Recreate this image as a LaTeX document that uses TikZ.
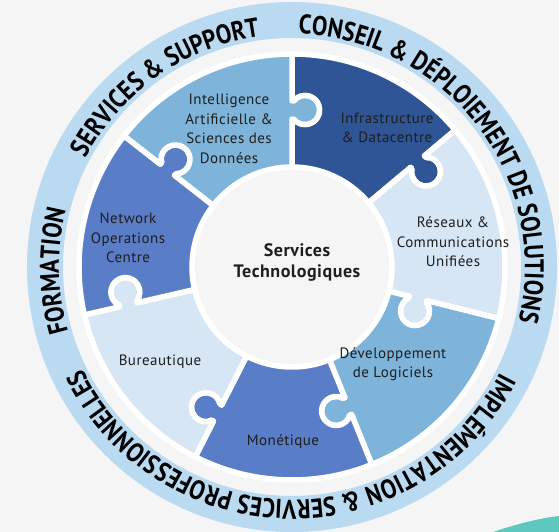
\documentclass[tikz,border=0pt]{standalone}
\usepackage{fontspec}
\setmainfont{PT Sans}[LetterSpace=3]
\newfontfamily\ringfont[FakeStretch=0.85]{PT Sans}
\usetikzlibrary{calc,decorations.text}

\definecolor{bgpaper}{HTML}{F5F5F5}
\definecolor{ringblue}{HTML}{B9DAF0}
\definecolor{navyblue}{HTML}{2F5597}
\definecolor{midblue}{HTML}{5A7DC8}
\definecolor{skyblue}{HTML}{7EB4DA}
\definecolor{paleblue}{HTML}{D6E6F4}
\definecolor{inkgray}{HTML}{1E1E1E}
\definecolor{tealish}{HTML}{5CC8BE}

\tikzset{
  piece/.style={draw=white, line width=5.5pt, line join=round},
  piecetext/.style={font=\fontsize{15}{19.5}\selectfont, align=center, text=inkgray},
  ringtext/.style={decorate, decoration={text along path, text align=center,
      text={|\ringfont\bfseries\fontsize{27}{27}\selectfont|#1}}}
}

% radial edge with the tab bulging clockwise: outwards and inwards
\newcommand\tabout[2]{-- (#1:#2-9)
  .. controls +(#1-100:4) and +(#1+55:3) .. ($(#1:#2)+(#1-90:13)+(#1+145:14.5)$)
  arc[start angle=#1+145, end angle=#1+395, radius=14.5]
  .. controls +(#1+125:3) and +(#1-90:4) .. (#1:#2+9)}
\newcommand\tabin[2]{-- (#1:#2+9)
  .. controls +(#1-90:4) and +(#1+125:3) .. ($(#1:#2)+(#1-90:13)+(#1+35:14.5)$)
  arc[start angle=#1+35, end angle=#1-215, radius=14.5]
  .. controls +(#1+55:3) and +(#1-100:4) .. (#1:#2-9)}

\begin{document}
\begin{tikzpicture}[x=1pt,y=1pt]
    \fill[bgpaper] (-292,-265) rectangle (267,267);  % paper
    \useasboundingbox (-292,-265) rectangle (267,267);
    \fill[tealish] (201,-265) .. controls (225,-257) and (248,-251) .. (267,-249) -- (267,-265) -- cycle;

    \draw[ringblue, line width=36pt] (0,0) circle[radius=247];  % outer band

    \def\rin{100}
    \def\rout{213}

    % Puzzle pieces, clockwise from the top
    \path[piece, fill=navyblue] (40:\rin) \tabout{40}{164} -- (40:\rout)
        arc[start angle=40, end angle=90, radius=\rout] \tabin{90}{157} -- (90:\rin)
        arc[start angle=90, end angle=40, radius=\rin] -- cycle;
    \path[piece, fill=paleblue] (-14:\rin) \tabout{-14}{130} -- (-14:\rout)
        arc[start angle=-14, end angle=40, radius=\rout] \tabin{40}{164} -- (40:\rin)
        arc[start angle=40, end angle=-14, radius=\rin] -- cycle;
    \path[piece, fill=skyblue] (-68:\rin) \tabout{-68}{150} -- (-68:\rout)
        arc[start angle=-68, end angle=-14, radius=\rout] \tabin{-14}{130} -- (-14:\rin)
        arc[start angle=-14, end angle=-68, radius=\rin] -- cycle;
    \path[piece, fill=midblue] (-117:\rin) \tabout{-117}{164} -- (-117:\rout)
        arc[start angle=-117, end angle=-68, radius=\rout] \tabin{-68}{150} -- (-68:\rin)
        arc[start angle=-68, end angle=-117, radius=\rin] -- cycle;
    \path[piece, fill=paleblue] (-167:\rin) \tabout{-167}{168} -- (-167:\rout)
        arc[start angle=-167, end angle=-117, radius=\rout] \tabin{-117}{164} -- (-117:\rin)
        arc[start angle=-117, end angle=-167, radius=\rin] -- cycle;
    \path[piece, fill=midblue] (-218:\rin) \tabout{-218}{158} -- (-218:\rout)
        arc[start angle=-218, end angle=-167, radius=\rout] \tabin{-167}{168} -- (-167:\rin)
        arc[start angle=-167, end angle=-218, radius=\rin] -- cycle;
    \path[piece, fill=skyblue] (90:\rin) \tabout{90}{157} -- (90:\rout)
        arc[start angle=90, end angle=142, radius=\rout] \tabin{142}{158} -- (142:\rin)
        arc[start angle=142, end angle=90, radius=\rin] -- cycle;

    % Piece labels
    \node[piecetext] (infra)   at (95,139)   {Infrastructure\\\& Datacentre};
    \node[piecetext] (reseaux) at (161,25)   {Réseaux \&\\Communications\\Unifiées};
    \node[piecetext] (devlog)  at (101,-97)  {Développement\\de Logiciels};
    \node[piecetext] (monet)   at (-9,-175)  {Monétique};
    \node[piecetext] (bureau)  at (-132,-95) {Bureautique};
    \node[piecetext] (noc)     at (-164,29)  {Network\\Operations\\Centre};
    \node[piecetext] (iasd)    at (-63,138)  {Intelligence\\Artificielle \&\\Sciences des\\Données};

    \node[font=\bfseries\fontsize{18}{21}\selectfont, align=center, text=inkgray] (core) at (5,5)
        {Services\\Technologiques};  % the hub

    % Band texts, read clockwise
    \path[ringtext={SERVICES {\&} SUPPORT}] (175:233) arc[start angle=175, end angle=75, radius=233];
    \path[ringtext={CONSEIL {\&} D{É}PLOIEMENT DE SOLUTIONS}] (108:233) arc[start angle=108, end angle=-33, radius=233];
    \path[ringtext={IMPL{É}MENTATION {\&} SERVICES PROFESSIONNELLES}] (-5:233) arc[start angle=-5, end angle=-176, radius=233];
    \path[ringtext={FORMATION}] (211:233) arc[start angle=211, end angle=151, radius=233];
\end{tikzpicture}
\end{document}
